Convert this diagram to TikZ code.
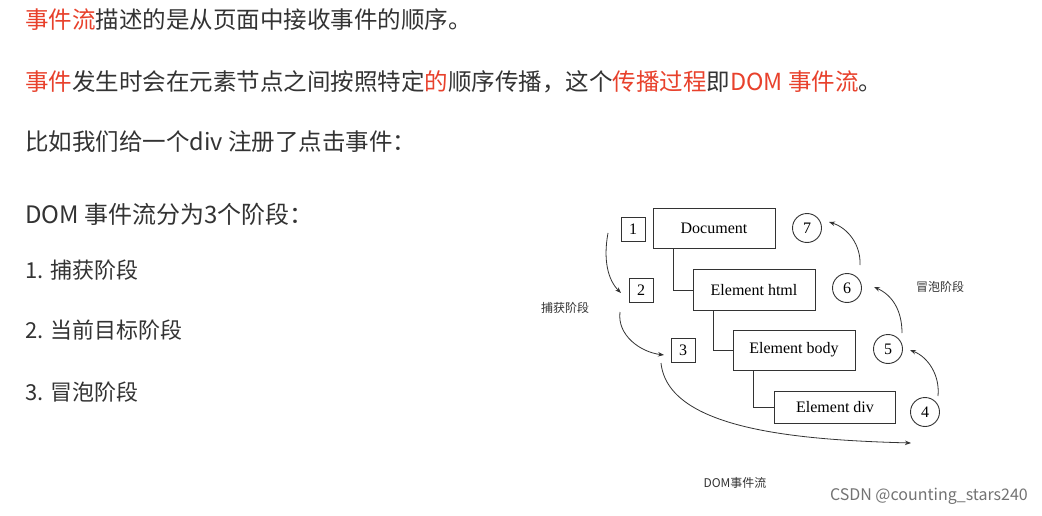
\documentclass[tikz,border=0pt]{standalone}
\usepackage{fontspec}
\setmainfont{Noto Sans CJK SC}
\newfontfamily\serifd{Liberation Serif}
\usetikzlibrary{arrows.meta}
\definecolor{rd}{HTML}{E8412C}
\definecolor{tx}{HTML}{333333}
\begin{document}
\begin{tikzpicture}[x=1pt,y=-1pt,
  line/.style={anchor=west,inner sep=0pt,text=tx,font=\fontsize{23.5}{25}\selectfont},
  el/.style={draw=black!80,line width=0.9pt,minimum height=40pt,font=\serifd\fontsize{16}{18}\selectfont,inner sep=0pt},
  sq/.style={draw=black!80,line width=0.9pt,minimum size=24pt,font=\serifd\fontsize{16}{18}\selectfont,inner sep=0pt},
  ci/.style={draw=black!80,circle,line width=0.9pt,minimum size=29pt,font=\serifd\fontsize{16}{18}\selectfont,inner sep=0pt},
  tree/.style={draw=black!80,line width=0.9pt},
  ar/.style={draw=black!80,line width=0.8pt,-{Stealth[length=6pt]}},
  lab/.style={font=\fontsize{12}{14}\selectfont,text=black!80}]
\useasboundingbox[fill=white] (0,0) rectangle (1042,516);
\node[line] (l1) at (25,20) {\textcolor{rd}{事件流}描述的是从页面中接收事件的顺序。};
\node[line] (l2) at (25,82) {\textcolor{rd}{事件}发生时会在元素节点之间按照特定\textcolor{rd}{的}顺序传播，这个\textcolor{rd}{传播过程}即\textcolor{rd}{ DOM 事件流}。};
\node[line] (l3) at (25,142) {比如我们给一个div 注册了点击事件：};
\node[line,font=\fontsize{24}{26}\selectfont] (h) at (25,214) {DOM 事件流分为3个阶段：};
\node[line,font=\fontsize{22}{24}\selectfont] (i1) at (25,270) {1. 捕获阶段};
\node[line,font=\fontsize{22}{24}\selectfont] (i2) at (25,330) {2. 当前目标阶段};
\node[line,font=\fontsize{22}{24}\selectfont] (i3) at (25,392) {3. 冒泡阶段};

\node[el,minimum width=122pt] (doc) at (714,228) {Document};
\node[el,minimum width=122pt,minimum height=41pt] (html) at (754,290) {Element html};
\node[el,minimum width=122pt] (body) at (794,350) {Element body};
\node[el,minimum width=121pt,minimum height=32pt] (div) at (835,407) {Element div};
\draw[tree] (673,248) |- (html.west);
\draw[tree] (713,310.5) |- (body.west);
\draw[tree] (753,370) |- (div.west);

\node[sq] (s1) at (633,229) {1};
\node[sq] (s2) at (641,290) {2};
\node[sq] (s3) at (683,350) {3};
\node[ci] (c7) at (807,228) {7};
\node[ci] (c6) at (847,288) {6};
\node[ci] (c5) at (888,349) {5};
\node[ci] (c4) at (925,412) {4};

\coordinate (a1s) at (608,233); \coordinate (a1e) at (621,293);
\coordinate (a2s) at (620,312); \coordinate (a2e) at (664,355);
\coordinate (a3s) at (661,363); \coordinate (a3e) at (911,443);
\draw[ar] (a1s) .. controls (603,260) and (608,280) .. (a1e);
\draw[ar] (a2s) .. controls (617,335) and (640,352) .. (a2e);
\draw[ar] (a3s) .. controls (668,430) and (800,440) .. (a3e);
\draw[ar] (938,396) .. controls (940,375) and (928,357) .. (910,350);
\draw[ar] (902,333) .. controls (902,310) and (892,295) .. (874,287);
\draw[ar] (860,265) .. controls (861,245) and (848,228) .. (829,222);

\node[lab] (cap) at (565,308) {捕获阶段};
\node[lab] (bub) at (940,287) {冒泡阶段};
\node[lab] (flow) at (735,483) {DOM事件流};
\node[anchor=east,inner sep=0pt,font=\fontsize{16}{18}\selectfont,text=black!55] (wm) at (1028,496) {CSDN @counting\_stars240};
\end{tikzpicture}
\end{document}
